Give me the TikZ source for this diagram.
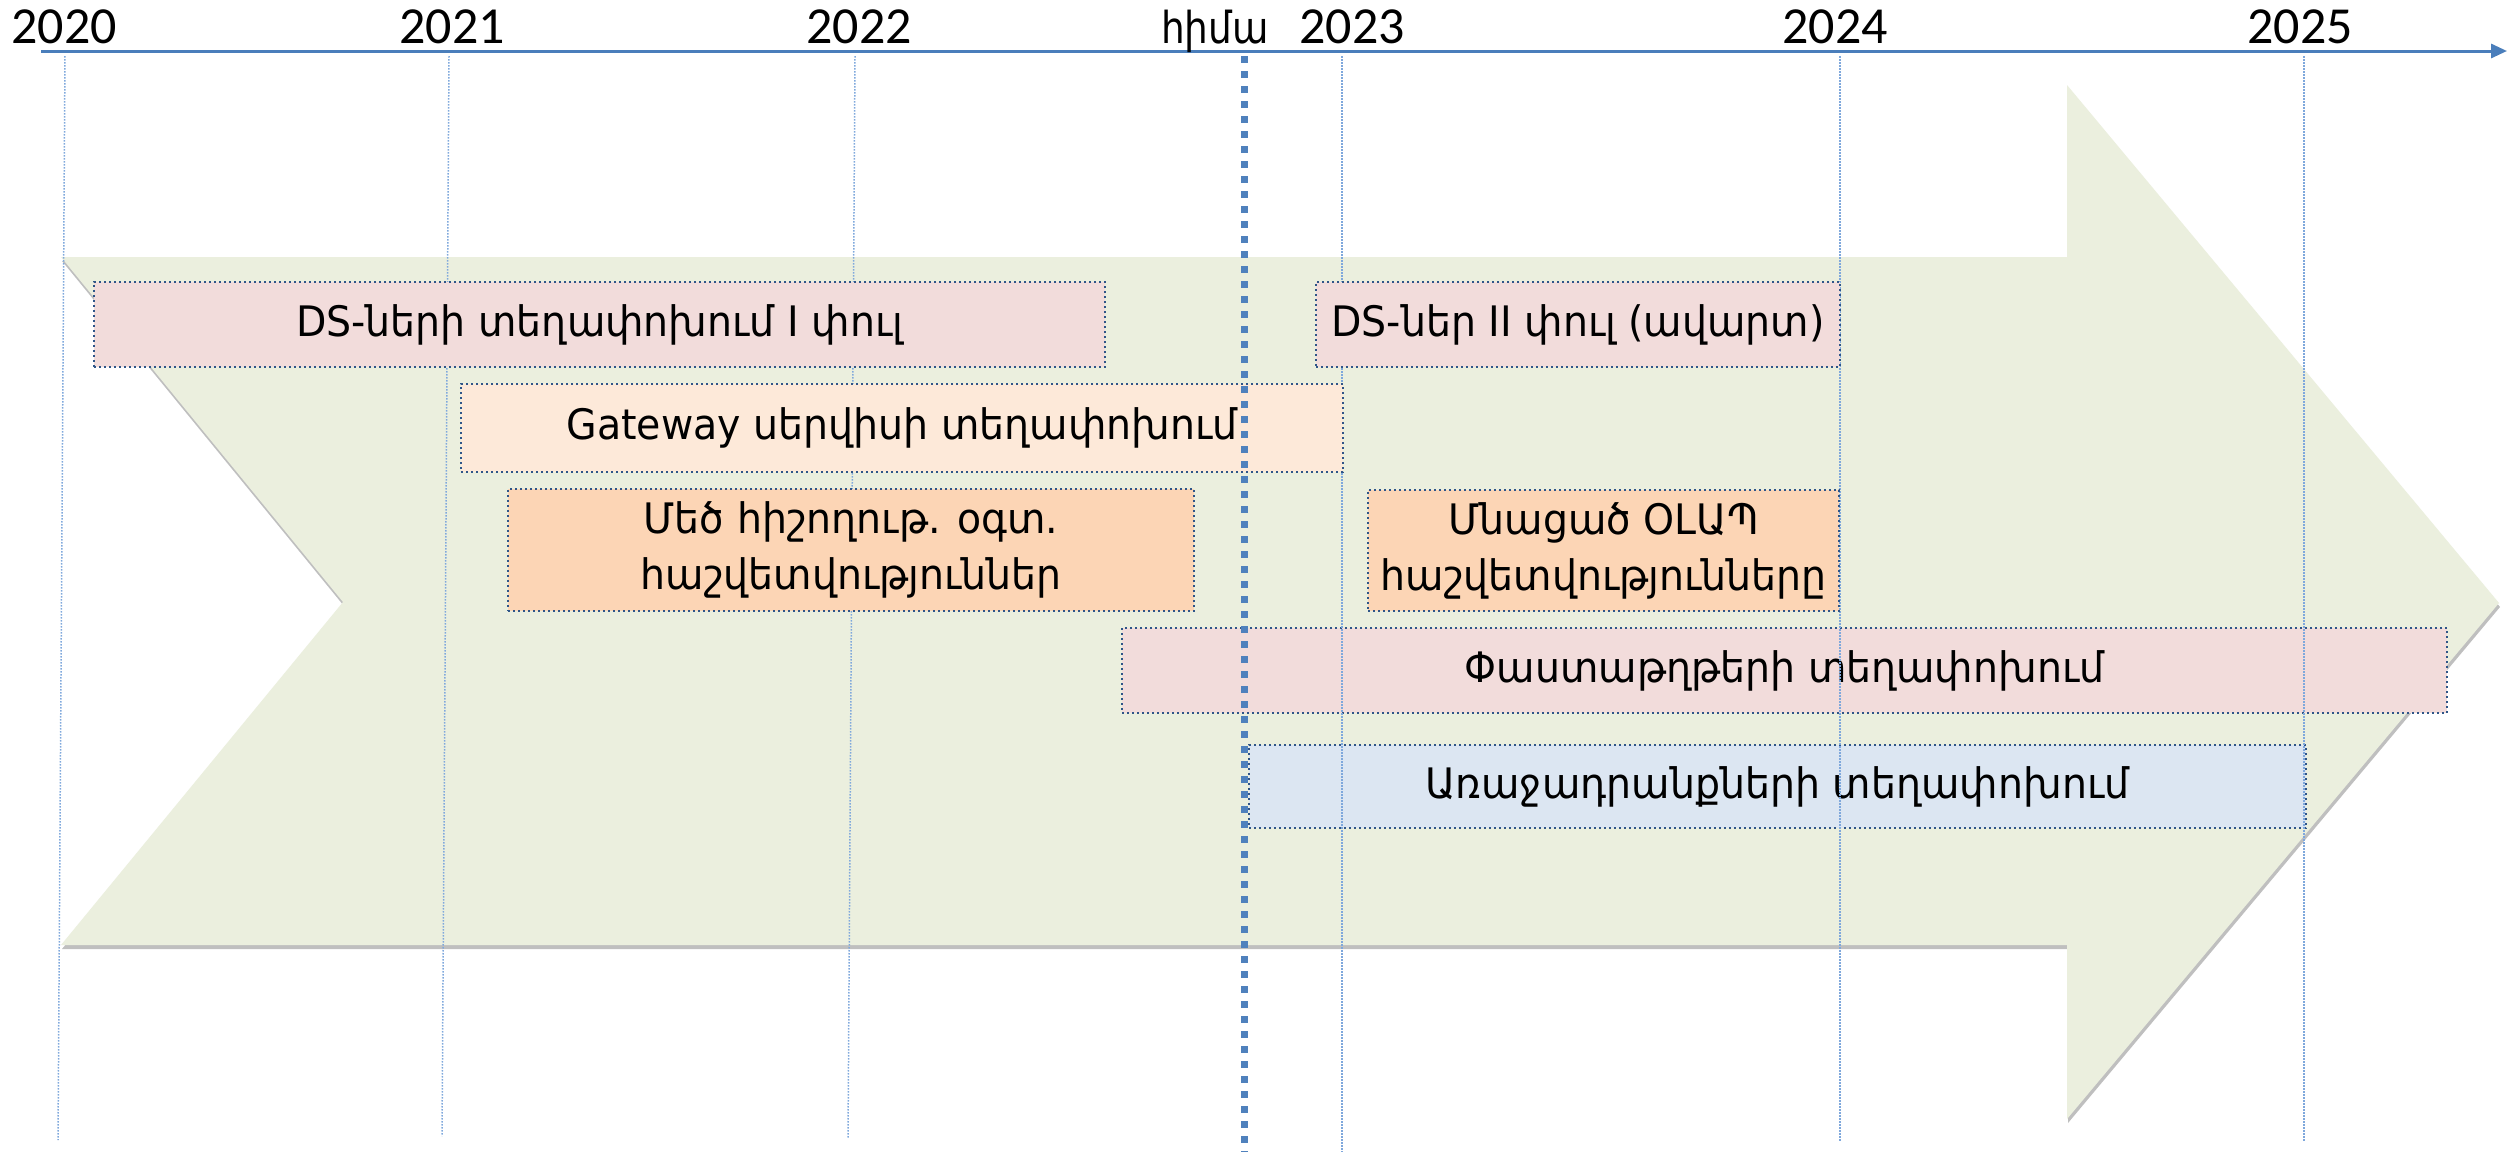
\documentclass[tikz,border=0pt]{standalone}
\usepackage{fontspec}
\setmainfont{DejaVu Sans}
\newfontfamily\yearfont{Carlito}
\newfontfamily\armnow[FakeStretch=0.85]{DejaVu Sans}
\newfontfamily\armbox[FakeStretch=0.94]{DejaVu Sans}
\usetikzlibrary{arrows.meta,shadows}
\definecolor{arrowfill}{HTML}{EBEFDE}
\definecolor{pinkf}{HTML}{F2DCDB}
\definecolor{peachl}{HTML}{FDE9D9}
\definecolor{peachd}{HTML}{FCD5B5}
\definecolor{bluef}{HTML}{DCE6F2}
\definecolor{borderc}{HTML}{2F5588}
\definecolor{gridc}{HTML}{7FA8DC}
\definecolor{axisc}{HTML}{4A7EBB}
\definecolor{nowc}{HTML}{4F81BD}
\tikzset{
  task/.style={draw=borderc, line width=1pt, dash pattern=on 1pt off 1.5pt,
    inner sep=0pt, align=center, font=\armbox\fontsize{21}{28}\selectfont, text=black},
  yearlbl/.style={anchor=base, inner sep=0pt, font=\yearfont\fontsize{26}{30}\selectfont},
  gridln/.style={draw=gridc, line width=0.75pt, dash pattern=on 0.75pt off 0.75pt},
  axisln/.style={draw=axisc, line width=1.5pt, -{Triangle[length=8pt,width=7pt]}},
  nowln/.style={draw=nowc, line width=3.5pt, dash pattern=on 3.5pt off 4pt},
  bigarrow/.style={fill=arrowfill, drop shadow={shadow xshift=0.5pt, shadow yshift=-2pt, opacity=0.25, fill=black}}
}
\begin{document}
\begin{tikzpicture}[x=0.5pt,y=-0.5pt]
\useasboundingbox[fill=white] (0,0) rectangle (2509,1152);
% big arrow
\path[bigarrow] (61,257) -- (2067,257) -- (2067,85) -- (2499,603) -- (2067,1119)
  -- (2067,945) -- (61,945) -- (343,602) -- cycle;
% boxes under the grid lines
\node (b5) [task, fill=pinkf, minimum width=662.5pt, minimum height=42.5pt] at (1784.5,670.5) {Փաստաթղթերի տեղափոխում};
\node (b6) [task, fill=bluef, minimum width=528.5pt, minimum height=41.5pt] at (1777.5,786.5) {Առաջադրանքների տեղափոխում};
% grid lines
\coordinate (g0t) at (65,56);   \coordinate (g0b) at (58,1140);
\coordinate (g1t) at (449,56);  \coordinate (g1b) at (442,1136);
\coordinate (g2t) at (855,56);  \coordinate (g2b) at (848,1138);
\coordinate (g3t) at (1342,56); \coordinate (g3b) at (1342,1152);
\coordinate (g4t) at (1840,56); \coordinate (g4b) at (1840,1142);
\coordinate (g5t) at (2304,56); \coordinate (g5b) at (2304,1142);
\foreach \i in {0,...,5} { \draw[gridln] (g\i t) -- (g\i b); }
% boxes over the grid lines
\node (b1) [task, fill=pinkf, minimum width=505.5pt, minimum height=42.5pt] at (599.5,324.5) {DS-ների տեղափոխում I փուլ};
\node (b2) [task, fill=pinkf, minimum width=262pt, minimum height=42.5pt] at (1578,324.5) {DS-ներ II փուլ (ավարտ)};
\node (bg) [task, fill=peachl, minimum width=441pt, minimum height=44pt] at (902,428) {Gateway սերվիսի տեղափոխում};
\node (b3) [task, fill=peachd, minimum width=343pt, minimum height=61pt] at (851,550) {Մեծ հիշողութ. օգտ.\\հաշվետվություններ};
\node (b4) [task, fill=peachd, minimum width=235.5pt, minimum height=60.5pt] at (1603.5,550.5) {Մնացած OLԱՊ\\հաշվետվությունները};
% axis
\coordinate (axs) at (41,51);
\coordinate (axe) at (2507,51);
\draw[axisln] (axs) -- (axe);
\node (y20) [yearlbl] at (64,43) {2020};
\node (y21) [yearlbl] at (452,43) {2021};
\node (y22) [yearlbl] at (859,43) {2022};
\node (ynow) [anchor=base, inner sep=0pt, font=\armnow\fontsize{22}{26}\selectfont] at (1215,43) {հիմա};
\node (y23) [yearlbl] at (1352,43) {2023};
\node (y24) [yearlbl] at (1835,43) {2024};
\node (y25) [yearlbl] at (2300,43) {2025};
% now line
\coordinate (nowt) at (1244,56);
\coordinate (nowb) at (1244,1152);
\draw[nowln] (nowt) -- (nowb);
\end{tikzpicture}
\end{document}
